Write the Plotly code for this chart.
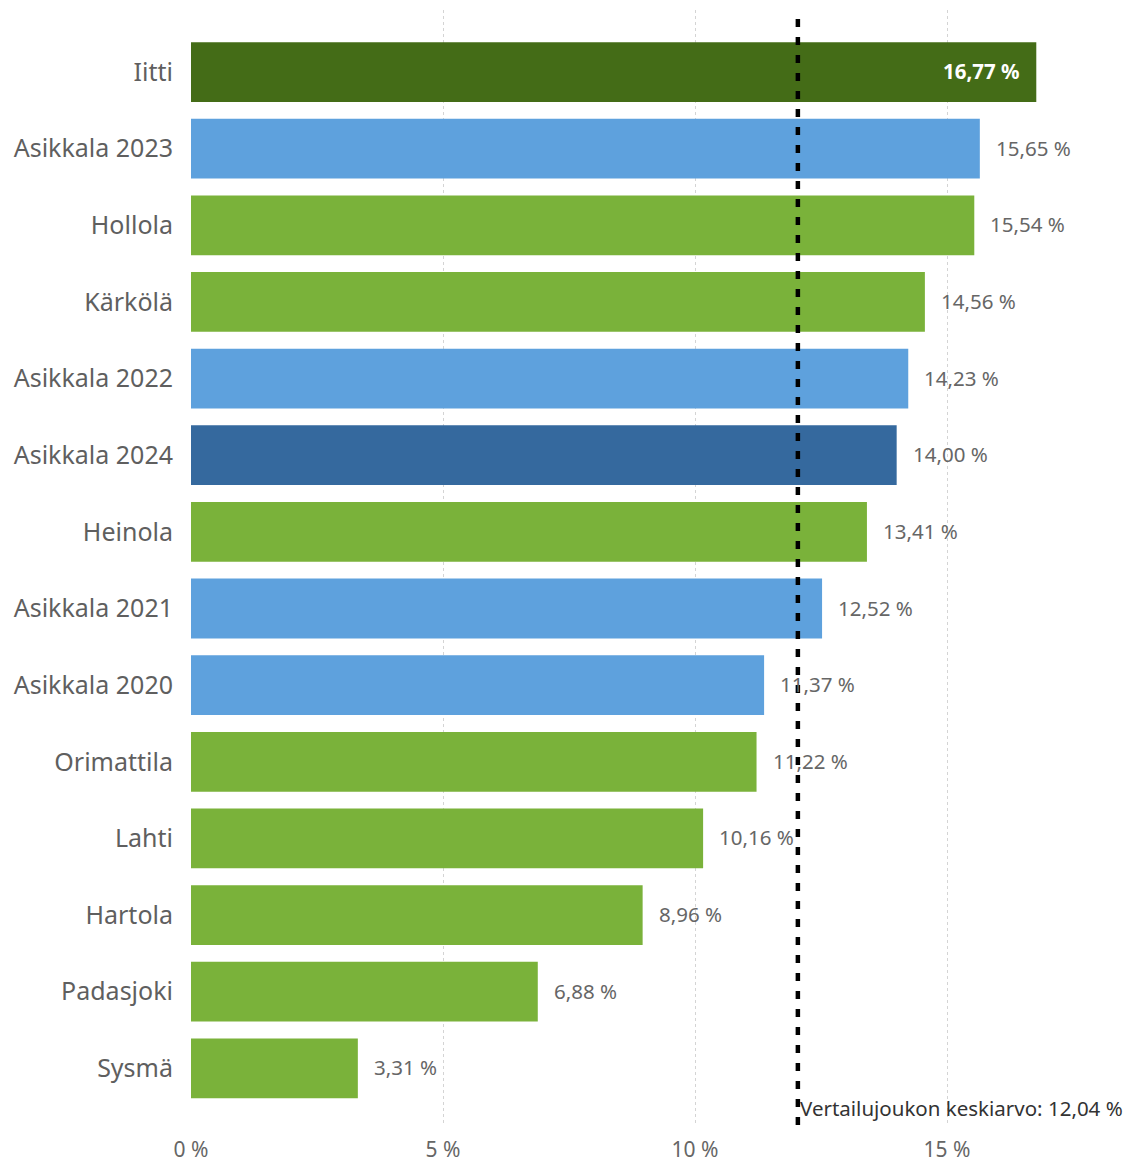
import plotly.graph_objects as go

categories = ["Iitti", "Asikkala 2023", "Hollola", "Kärkölä", "Asikkala 2022", "Asikkala 2024",
              "Heinola", "Asikkala 2021", "Asikkala 2020", "Orimattila", "Lahti", "Hartola",
              "Padasjoki", "Sysmä"]
values = [16.77, 15.65, 15.54, 14.56, 14.23, 14.00, 13.41, 12.52, 11.37, 11.22, 10.16, 8.96, 6.88, 3.31]
groups = ["highlight", "asikkala", "muni", "muni", "asikkala", "asikkala_current", "muni",
          "asikkala", "asikkala", "muni", "muni", "muni", "muni", "muni"]
average = 12.04
average_label = "Vertailujoukon keskiarvo: 12,04 %"
x_ticks = [0, 5, 10, 15]
x_tick_labels = ["0 %", "5 %", "10 %", "15 %"]

color_map = {
    "highlight": "#446c17",
    "asikkala": "#5ea1dd",
    "asikkala_current": "#35699e",
    "muni": "#7ab23a",
}

def fmt(v):
    return f"{v:.2f}".replace(".", ",") + " %"

fig = go.Figure()
fig.add_trace(go.Bar(
    x=values,
    y=categories,
    orientation="h",
    marker=dict(color=[color_map[g] for g in groups], line=dict(width=0)),
    width=0.78,
    hoverinfo="skip",
))

FONT = "Noto Sans"
for cat, v in zip(categories, values):
    inside = v > 16
    fig.add_annotation(
        x=v, y=cat, xref="x", yref="y",
        text=f"<b>{fmt(v)}</b>" if inside else fmt(v),
        showarrow=False,
        xanchor="right" if inside else "left",
        xshift=-14 if inside else 14,
        yshift=1,
        font=dict(family=FONT, size=20.5, color="white" if inside else "#666666"),
    )

fig.add_shape(
    type="line", xref="x", yref="paper",
    x0=average, x1=average, y0=0, y1=1,
    line=dict(color="black", width=4.5, dash="8px,10px"),
)
fig.add_annotation(
    x=average, y=0.015, xref="x", yref="paper",
    text=average_label, showarrow=False,
    xanchor="left", yanchor="middle",
    font=dict(family=FONT, size=20.5, color="#333333"),
)

fig.update_layout(
    width=1124, height=1155,
    margin=dict(l=183, r=7, t=2, b=38, autoexpand=False),
    plot_bgcolor="white", paper_bgcolor="white",
    showlegend=False,
    font=dict(family=FONT),
)
fig.update_xaxes(
    range=[0, 18.53],
    tickvals=x_ticks, ticktext=x_tick_labels,
    showgrid=True, gridcolor="#d4d4d4", griddash="dot", gridwidth=1,
    zeroline=False, showline=False,
    ticks="outside", ticklen=6, tickcolor="rgba(0,0,0,0)",
    tickfont=dict(family=FONT, size=21, color="#666666"),
    automargin=False,
)
fig.update_yaxes(
    range=[13.74, -0.81],
    showgrid=False, zeroline=False, showline=False,
    ticks="outside", ticklen=12, tickcolor="rgba(0,0,0,0)",
    tickfont=dict(family=FONT, size=25, color="#5f5f5f"),
    automargin=False,
)

fig.write_html("out.html")
